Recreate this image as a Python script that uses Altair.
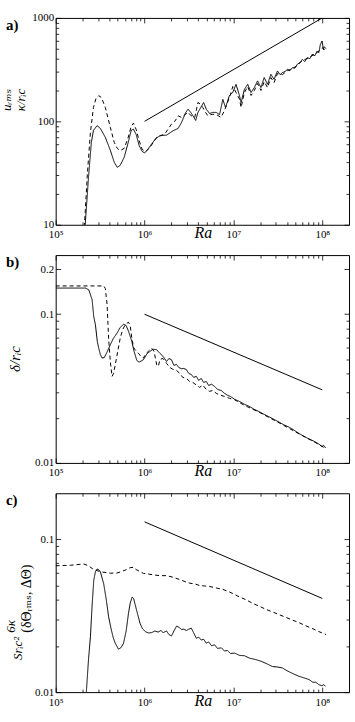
import json
import altair as alt
import pandas as pd

FONT = "Liberation Serif, Times New Roman, DejaVu Serif, serif"

# ---------------- panel a : u_rms / (kappa / r_ic) ----------------
RA_A_SOLID = [2.14e5, 2.34e5, 2.52e5, 2.66e5, 2.92e5, 3.18e5, 3.62e5, 4.12e5, 4.56e5, 4.93e5,
              5.32e5, 5.90e5, 6.55e5, 7.07e5, 7.50e5, 8.04e5, 8.68e5, 9.38e5, 1.00e6, 1.07e6,
              1.20e6, 1.34e6, 1.49e6, 1.77e6, 2.10e6, 2.39e6, 2.61e6, 2.91e6, 3.09e6, 3.31e6,
              3.51e6, 3.76e6, 3.99e6, 4.35e6, 4.62e6, 4.95e6, 5.40e6, 5.83e6, 6.41e6, 6.98e6,
              7.60e6, 8.15e6, 9.02e6, 9.83e6, 1.07e7, 1.17e7, 1.22e7, 1.33e7, 1.45e7, 1.58e7,
              1.72e7, 1.87e7, 2.04e7, 2.22e7, 2.42e7, 2.64e7, 2.87e7, 3.13e7, 3.35e7, 3.56e7,
              3.81e7, 4.05e7, 4.33e7, 4.60e7, 4.93e7, 5.23e7, 5.61e7, 5.94e7, 6.37e7, 6.76e7,
              7.24e7, 7.69e7, 8.24e7, 8.75e7, 9.14e7, 9.50e7, 9.95e7, 1.03e8, 1.05e8, 1.10e8]
U_A_SOLID = [9.5, 28.8, 62.6, 81.7, 90.8, 85.5, 70.0, 52.5, 40.2, 35.9,
             37.6, 44.9, 62.6, 81.7, 84.1, 74.8, 58.6, 51.3, 49.4, 52.5,
             60.3, 68.4, 72.6, 73.6, 81.2, 85.5, 97.6, 122, 131, 122,
             113, 102, 122, 139, 152, 131, 119, 122, 122, 116,
             163, 136, 178, 190, 228, 177, 152, 204, 228, 190,
             212, 246, 212, 265, 228, 285, 255, 307, 283, 296,
             303, 318, 309, 330, 327, 356, 369, 397, 378, 413,
             404, 444, 431, 479, 461, 551, 598, 493, 527, 504]

RA_A_DASHED = [2.10e5, 2.28e5, 2.46e5, 2.66e5, 2.84e5, 3.05e5, 3.27e5, 3.62e5, 4.12e5, 4.56e5,
               4.93e5, 5.32e5, 5.90e5, 6.55e5, 7.07e5, 7.50e5, 8.04e5, 8.68e5, 9.38e5, 1.03e6,
               1.15e6, 1.37e6, 1.53e6, 1.69e6, 1.83e6, 2.01e6, 2.19e6, 2.39e6, 2.61e6, 2.84e6,
               3.09e6, 3.31e6, 3.67e6, 3.99e6, 4.27e6, 4.52e6, 4.86e6, 5.16e6, 5.53e6, 5.86e6,
               6.47e6, 7.24e6, 7.93e6, 8.58e6, 9.25e6, 9.83e6, 1.07e7, 1.17e7, 1.22e7, 1.33e7,
               1.45e7, 1.58e7, 1.72e7, 1.87e7, 2.04e7, 2.22e7, 2.42e7, 2.64e7, 2.87e7, 3.13e7,
               3.56e7, 4.05e7, 4.60e7, 5.23e7, 5.94e7, 6.76e7, 7.69e7, 8.75e7, 9.95e7, 1.10e8]
U_A_DASHED = [9.5, 32.2, 78.2, 136, 166, 177, 170, 136, 87.4, 62.6,
              54.8, 52.1, 54.8, 70.0, 89.3, 96.1, 83.6, 65.5, 53.6, 50.9,
              56.1, 70.0, 73.1, 75.4, 83.6, 94.0, 100, 113, 109, 116,
              122, 114, 109, 152, 146, 136, 122, 113, 116, 117,
              116, 109, 127, 152, 181, 217, 190, 164, 136, 190,
              217, 178, 199, 232, 199, 242, 212, 265, 237, 290,
              283, 309, 324, 346, 387, 404, 431, 461, 515, 482]

RA_A_REF = [1e6, 1e8]
U_A_REF = [100, 1000]

# ---------------- panel b : delta / r_ic ----------------
RA_B_SOLID = [1.0e5, 2.16e5, 2.36e5, 2.57e5, 2.68e5, 2.80e5, 2.94e5, 3.05e5, 3.18e5, 3.33e5,
              3.53e5, 3.81e5, 4.12e5, 4.45e5, 4.89e5, 5.32e5, 5.80e5, 6.21e5, 6.62e5, 7.19e5,
              7.63e5, 8.18e5, 8.68e5, 9.70e5, 1.07e6, 1.15e6, 1.24e6, 1.37e6, 1.49e6, 1.62e6,
              1.77e6, 1.88e6, 2.01e6, 2.14e6, 2.29e6, 2.43e6, 2.61e6, 2.76e6, 2.96e6, 3.14e6,
              3.36e6, 3.57e6, 3.83e6, 4.06e6, 4.35e6, 4.62e6, 4.95e6, 5.26e6, 5.68e6, 6.14e6,
              6.63e6, 7.29e6, 7.93e6, 8.57e6, 9.25e6, 1.03e7, 1.17e7, 1.33e7, 1.51e7, 1.72e7,
              1.95e7, 2.22e7, 2.53e7, 2.87e7, 3.27e7, 3.72e7, 4.23e7, 4.81e7, 5.46e7, 6.21e7,
              7.07e7, 8.04e7, 9.14e7, 9.9e7, 1.04e8, 1.09e8]
D_B_SOLID = [0.150, 0.150, 0.146, 0.125, 0.0966, 0.0849, 0.0656, 0.0591, 0.0536, 0.0507,
             0.0512, 0.0562, 0.0623, 0.0687, 0.0745, 0.0814, 0.0857, 0.0840, 0.0765, 0.0656,
             0.0562, 0.0489, 0.0476, 0.0494, 0.0545, 0.0562, 0.0582, 0.0577, 0.0545, 0.0520,
             0.0481, 0.0504, 0.0494, 0.0453, 0.0460, 0.0438, 0.0430, 0.0432, 0.0424, 0.0400,
             0.0393, 0.0376, 0.0382, 0.0359, 0.0370, 0.0348, 0.0353, 0.0332, 0.0338, 0.0327,
             0.0312, 0.0307, 0.0294, 0.0285, 0.0280, 0.0268, 0.0259, 0.0248, 0.0240, 0.0229,
             0.0221, 0.0212, 0.0204, 0.0196, 0.0188, 0.0180, 0.0174, 0.0166, 0.0158, 0.0151,
             0.0145, 0.0140, 0.0134, 0.0129, 0.0131, 0.0126]

RA_B_DASHED = [1.0e5, 3.47e5, 3.62e5, 3.79e5, 3.94e5, 4.12e5, 4.31e5, 4.48e5, 4.68e5, 4.99e5,
               5.32e5, 5.68e5, 6.05e5, 6.59e5, 6.89e5, 7.19e5, 7.53e5, 7.83e5, 8.51e5, 9.14e5,
               9.70e5, 1.04e6, 1.10e6, 1.20e6, 1.28e6, 1.37e6, 1.43e6, 1.49e6, 1.61e6, 1.77e6,
               1.93e6, 2.08e6, 2.29e6, 2.49e6, 2.69e6, 2.96e6, 3.22e6, 3.48e6, 3.83e6, 4.17e6,
               4.51e6, 4.95e6, 5.40e6, 5.86e6, 6.41e6, 6.98e6, 7.93e6, 9.02e6, 1.03e7, 1.33e7,
               1.95e7, 3.27e7, 5.46e7, 8.04e7, 1.09e8]
D_B_DASHED = [0.155, 0.155, 0.149, 0.116, 0.0690, 0.0481, 0.0382, 0.0400, 0.0457, 0.0562,
              0.0690, 0.0789, 0.0849, 0.0884, 0.0840, 0.0690, 0.0598, 0.0577, 0.0547, 0.0520,
              0.0507, 0.0545, 0.0562, 0.0591, 0.0562, 0.0457, 0.0446, 0.0497, 0.0504, 0.0467,
              0.0438, 0.0426, 0.0419, 0.0400, 0.0376, 0.0370, 0.0353, 0.0348, 0.0334, 0.0322,
              0.0334, 0.0312, 0.0303, 0.0307, 0.0294, 0.0287, 0.0280, 0.0272, 0.0266, 0.0244,
              0.0219, 0.0186, 0.0157, 0.0139, 0.0125]

RA_B_REF = [1e6, 1e8]
D_B_REF = [0.1, 0.031]

# ---------------- panel c : 6 kappa / (S r_ic^2) (dTheta_rms, DTheta) ----------------
RA_C_SOLID = [2.20e5, 2.34e5, 2.46e5, 2.57e5, 2.68e5, 2.80e5, 2.92e5, 3.05e5, 3.18e5, 3.47e5,
              3.72e5, 3.94e5, 4.23e5, 4.45e5, 4.68e5, 5.09e5, 5.46e5, 5.80e5, 6.21e5, 6.59e5,
              6.89e5, 7.24e5, 7.53e5, 7.83e5, 8.35e5, 8.91e5, 9.50e5, 1.03e6, 1.10e6, 1.20e6,
              1.31e6, 1.42e6, 1.53e6, 1.62e6, 1.77e6, 1.88e6, 2.01e6, 2.14e6, 2.29e6, 2.43e6,
              2.61e6, 2.76e6, 2.96e6, 3.14e6, 3.36e6, 3.57e6, 3.83e6, 4.06e6, 4.35e6, 4.62e6,
              4.95e6, 5.26e6, 5.68e6, 6.14e6, 6.63e6, 7.29e6, 7.93e6, 8.57e6, 9.25e6, 1.03e7,
              1.17e7, 1.33e7, 1.51e7, 1.80e7, 2.06e7, 2.39e7, 2.75e7, 3.10e7, 3.56e7, 4.01e7,
              4.44e7, 4.96e7, 5.46e7, 6.21e7, 7.07e7, 7.83e7, 8.46e7, 9.14e7, 9.9e7, 1.04e8,
              1.09e8]
T_C_SOLID = [0.0095, 0.0163, 0.0230, 0.0370, 0.0537, 0.0614, 0.0639, 0.0632, 0.0614, 0.0511,
             0.0398, 0.0311, 0.0255, 0.0226, 0.0209, 0.0191, 0.0196, 0.0209, 0.0251, 0.0327,
             0.0381, 0.0419, 0.0410, 0.0375, 0.0324, 0.0281, 0.0259, 0.0248, 0.0244, 0.0245,
             0.0251, 0.0247, 0.0253, 0.0245, 0.0251, 0.0238, 0.0233, 0.0251, 0.0270, 0.0266,
             0.0257, 0.0258, 0.0253, 0.0258, 0.0262, 0.0244, 0.0225, 0.0229, 0.0219, 0.0222,
             0.0209, 0.0213, 0.0201, 0.0204, 0.0193, 0.0195, 0.0186, 0.0187, 0.0179, 0.0180,
             0.0174, 0.0173, 0.0167, 0.0163, 0.0159, 0.0153, 0.0147, 0.0146, 0.0144, 0.0138,
             0.0134, 0.0130, 0.0127, 0.0124, 0.0121, 0.0116, 0.0116, 0.0112, 0.0110, 0.0112,
             0.0109]

RA_C_DASHED = [1.0e5, 1.47e5, 2.07e5, 2.34e5, 2.59e5, 2.92e5, 3.35e5, 4.12e5, 4.89e5, 5.46e5,
               6.21e5, 6.89e5, 7.50e5, 8.04e5, 8.91e5, 9.70e5, 1.10e6, 1.31e6, 1.49e6, 1.77e6,
               2.10e6, 2.49e6, 2.96e6, 3.22e6, 3.67e6, 4.17e6, 4.74e6, 5.40e6, 6.41e6, 7.60e6,
               9.02e6, 1.03e7, 1.17e7, 1.39e7, 1.64e7, 1.95e7, 2.32e7, 2.75e7, 3.27e7, 3.88e7,
               4.60e7, 5.46e7, 6.49e7, 7.69e7, 9.14e7, 1.10e8]
T_C_DASHED = [0.0671, 0.0676, 0.0689, 0.0671, 0.0642, 0.0623, 0.0610, 0.0600, 0.0601, 0.0614,
              0.0632, 0.0652, 0.0655, 0.0634, 0.0614, 0.0598, 0.0592, 0.0583, 0.0578, 0.0578,
              0.0564, 0.0545, 0.0524, 0.0516, 0.0511, 0.0498, 0.0495, 0.0491, 0.0480, 0.0470,
              0.0452, 0.0436, 0.0419, 0.0402, 0.0381, 0.0365, 0.0348, 0.0335, 0.0321, 0.0309,
              0.0296, 0.0285, 0.0272, 0.0261, 0.0249, 0.0238]

RA_C_REF = [1e6, 1e8]
T_C_REF = [0.13, 0.041]

# ---------------- ticks and labels ----------------
X_TICKS = [1e5, 2e5, 3e5, 4e5, 5e5, 6e5, 7e5, 8e5, 9e5,
           1e6, 2e6, 3e6, 4e6, 5e6, 6e6, 7e6, 8e6, 9e6,
           1e7, 2e7, 3e7, 4e7, 5e7, 6e7, 7e7, 8e7, 9e7, 1e8]
X_LABELS = {100000: "10⁵", 1000000: "10⁶", 10000000: "10⁷", 100000000: "10⁸"}

Y_TICKS_A = [10, 20, 30, 40, 50, 60, 70, 80, 90, 100, 200, 300, 400, 500, 600, 700, 800, 900, 1000]
Y_LABELS_A = {10: "10", 100: "100", 1000: "1000"}
Y_TICKS_B = [0.01, 0.02, 0.03, 0.04, 0.05, 0.06, 0.07, 0.08, 0.09, 0.1, 0.2]
Y_LABELS_B = {0.01: "0.01", 0.1: "0.1", 0.2: "0.2"}
Y_TICKS_C = [0.01, 0.02, 0.03, 0.04, 0.05, 0.06, 0.07, 0.08, 0.09, 0.1]
Y_LABELS_C = {0.01: "0.01", 0.1: "0.1"}

# y-title pieces of panel c (fraction 6κ / S r_ic², then the bracket)
TITLE_C_PARTS = ["6κ", "Srᵢc²", "(δΘᵣₘₛ, ΔΘ)"]


def label_expr(labels):
    expr = "''"
    for k, v in reversed(list(labels.items())):
        expr = f"datum.value == {json.dumps(k)} ? '{v}' : {expr}"
    return expr


def tick_size(labels):
    # inward ticks: long at labelled values, short elsewhere
    keys = json.dumps(list(labels.keys()))
    return {"expr": f"indexof({keys}, datum.value) >= 0 ? -5 : -3"}


def text_note(txt, x, y, size, style="normal", weight="normal", angle=0, align="center"):
    return alt.Chart(pd.DataFrame({"t": [txt]})).mark_text(
        align=align, baseline="middle", font=FONT, fontSize=size, fontStyle=style,
        fontWeight=weight, angle=angle, color="black"
    ).encode(text="t:N", x=alt.value(x), y=alt.value(y))


def panel(ra_s, v_s, ra_d, v_d, ra_r, v_r, y_dom, y_ticks, y_labels, y_axis_title, height, tag,
          extra=()):
    df = pd.concat([
        pd.DataFrame({"Ra": ra_s, "v": v_s, "series": "solid"}),
        pd.DataFrame({"Ra": ra_d, "v": v_d, "series": "dashed"}),
    ], ignore_index=True)
    ref = pd.DataFrame({"Ra": ra_r, "v": v_r})

    xs = alt.Scale(type="log", domain=[1e5, 2e8], nice=False)
    ys = alt.Scale(type="log", domain=y_dom, nice=False)

    x_bottom = alt.Axis(
        orient="bottom", values=X_TICKS, labelExpr=label_expr(X_LABELS),
        tickSize=tick_size(X_LABELS), tickColor="black", tickWidth=0.8,
        labelPadding=9, labelFlush=False, labelOverlap=False,
        labelFont=FONT, labelFontSize=11, labelColor="black",
        domain=False, grid=False,
        title="Ra", titleFont=FONT, titleFontStyle="italic", titleFontWeight="normal",
        titleFontSize=16, titleColor="black", titleX=148, titleY=13,
        titleAlign="center", titleBaseline="alphabetic",
    )
    y_left = alt.Axis(
        orient="left", values=y_ticks, labelExpr=label_expr(y_labels),
        tickSize=tick_size(y_labels), tickColor="black", tickWidth=0.8,
        labelPadding=7, labelFlush=False, labelOverlap=False,
        labelFont=FONT, labelFontSize=11, labelColor="black",
        domain=False, grid=False, titleColor="black", titleFontWeight="normal",
        titleFont=FONT, titleAngle=270, titleAlign="center", titleBaseline="top",
        **y_axis_title,
    )
    x_top = alt.Axis(orient="top", values=X_TICKS, labels=False, domain=False, grid=False,
                     tickSize=tick_size(X_LABELS), tickColor="black", tickWidth=0.8, title=None)
    y_right = alt.Axis(orient="right", values=y_ticks, labels=False, domain=False, grid=False,
                       tickSize=tick_size(y_labels), tickColor="black", tickWidth=0.8, title=None)

    curves = alt.Chart(df).mark_line(clip=True, strokeWidth=1, color="black").encode(
        x=alt.X("Ra:Q", scale=xs, axis=x_bottom),
        y=alt.Y("v:Q", scale=ys, axis=y_left),
        strokeDash=alt.StrokeDash("series:N",
                                  scale=alt.Scale(domain=["solid", "dashed"], range=[[1, 0], [4, 3]]),
                                  legend=None),
    )
    refline = alt.Chart(ref).mark_line(clip=True, strokeWidth=1, color="black").encode(
        x=alt.X("Ra:Q", scale=xs, axis=x_top),
        y=alt.Y("v:Q", scale=ys, axis=y_right),
    )
    label = text_note(tag, -50, 7, 15, weight="bold", align="left")

    return alt.layer(curves, refline, label, *extra).resolve_axis(
        x="independent", y="independent"
    ).properties(width=295, height=height)


pa = panel(RA_A_SOLID, U_A_SOLID, RA_A_DASHED, U_A_DASHED, RA_A_REF, U_A_REF,
           [10, 1000], Y_TICKS_A, Y_LABELS_A,
           dict(title=["uᵣₘₛ", "κ/rᵢc"], titleX=-55, titleY=82,
                titleFontSize=13, titleFontStyle="italic", titleLineHeight=14),
           208, "a)")
pb = panel(RA_B_SOLID, D_B_SOLID, RA_B_DASHED, D_B_DASHED, RA_B_REF, D_B_REF,
           [0.01, 0.25], Y_TICKS_B, Y_LABELS_B,
           dict(title="δ/rᵢc", titleX=-48, titleY=104,
                titleFontSize=15, titleFontStyle="italic"),
           209, "b)")
pc = panel(RA_C_SOLID, T_C_SOLID, RA_C_DASHED, T_C_DASHED, RA_C_REF, T_C_REF,
           [0.01, 0.2], Y_TICKS_C, Y_LABELS_C,
           dict(title=None),
           200, "c)",
           extra=(
               text_note(TITLE_C_PARTS[0], -45, 134, 13, style="italic", angle=270),
               text_note(TITLE_C_PARTS[1], -38, 156, 13, style="italic", angle=270),
               text_note(TITLE_C_PARTS[2], -29, 106, 14, angle=270),
           ))

chart = alt.vconcat(pa, pb, pc, spacing=30.5, bounds="flush").properties(
    padding={"left": 0, "top": 9, "right": 5, "bottom": 5},
    background="white",
).configure_view(stroke="black", strokeWidth=1)

chart.save("out.html", embed_options={"renderer": "svg", "actions": False})
